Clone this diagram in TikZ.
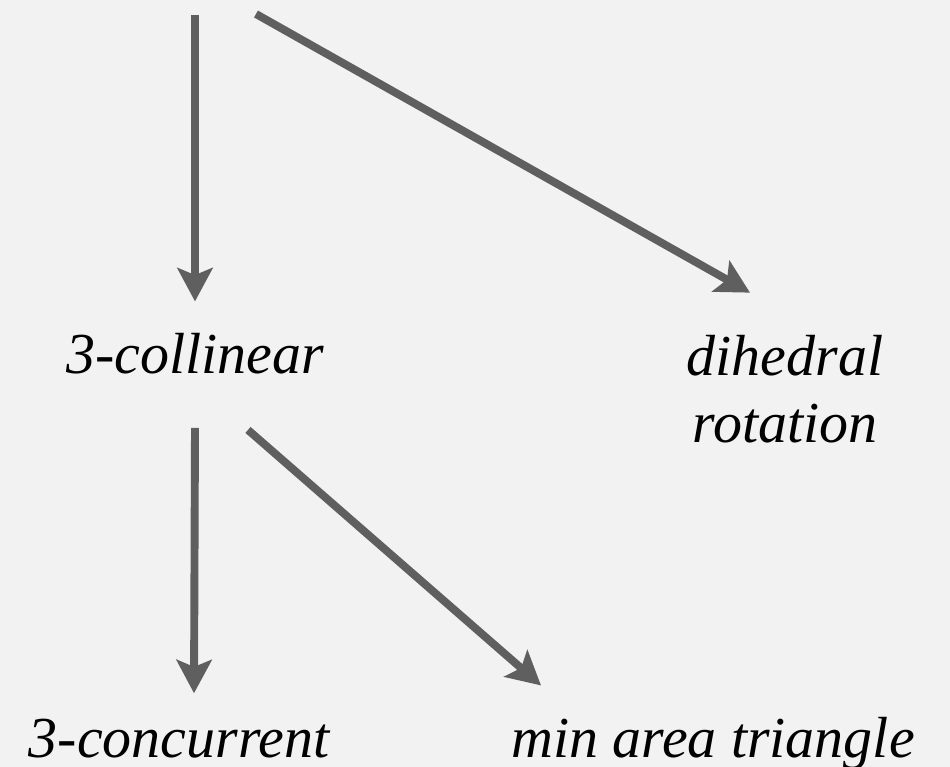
\documentclass[tikz,border=0pt]{standalone}
\usepackage{fontspec}
\setmainfont{LiberationSerif}[Extension=.ttf, UprightFont=*-Regular, ItalicFont=*-Italic]
\usepackage{tikz}
\usetikzlibrary{arrows.meta, positioning}
\definecolor{nen}{HTML}{F2F2F2}
\definecolor{xam}{HTML}{5F5F5F}

\begin{document}
\begin{tikzpicture}[x=0.02cm, y=-0.02cm,
    muiten/.style={draw=xam, line width=4.5pt, -{Stealth[length=19pt, width=20pt, inset=4pt]}},
    nhan/.style={inner sep=0pt, anchor=base, align=center,
        font=\rmfamily\itshape\fontsize{33}{38}\selectfont}]

    % 1. Nền
    \fill[nen] (0,0) rectangle (950,767);
    \useasboundingbox (0,0) rectangle (950,767);

    % 2. Các nhãn
    \node[nhan] (coll) at (195,373) {3-collinear};
    \node[nhan] (dihedral) at (785,442) {dihedral\\rotation};
    \node[nhan] (conc) at (179,757) {3-concurrent};
    \node[nhan] (tri) at (713,757) {min area triangle};

    % 3. Điểm đầu (phía trên, ngoài khung)
    \coordinate (s1) at (195,15);
    \coordinate (s2) at (256,14);

    % 4. Các mũi tên
    \draw[muiten] (s1) -- ([shift={(0,-31)}]coll.north);
    \draw[muiten] (s2) -- ([shift={(-35,-42)}]dihedral.north);
    \draw[muiten] ([shift={(0,54)}]coll.south) -- ([shift={(15,-25)}]conc.north);
    \draw[muiten] ([shift={(53,56)}]coll.south) -- ([shift={(-172,-31)}]tri.north);
\end{tikzpicture}
\end{document}
